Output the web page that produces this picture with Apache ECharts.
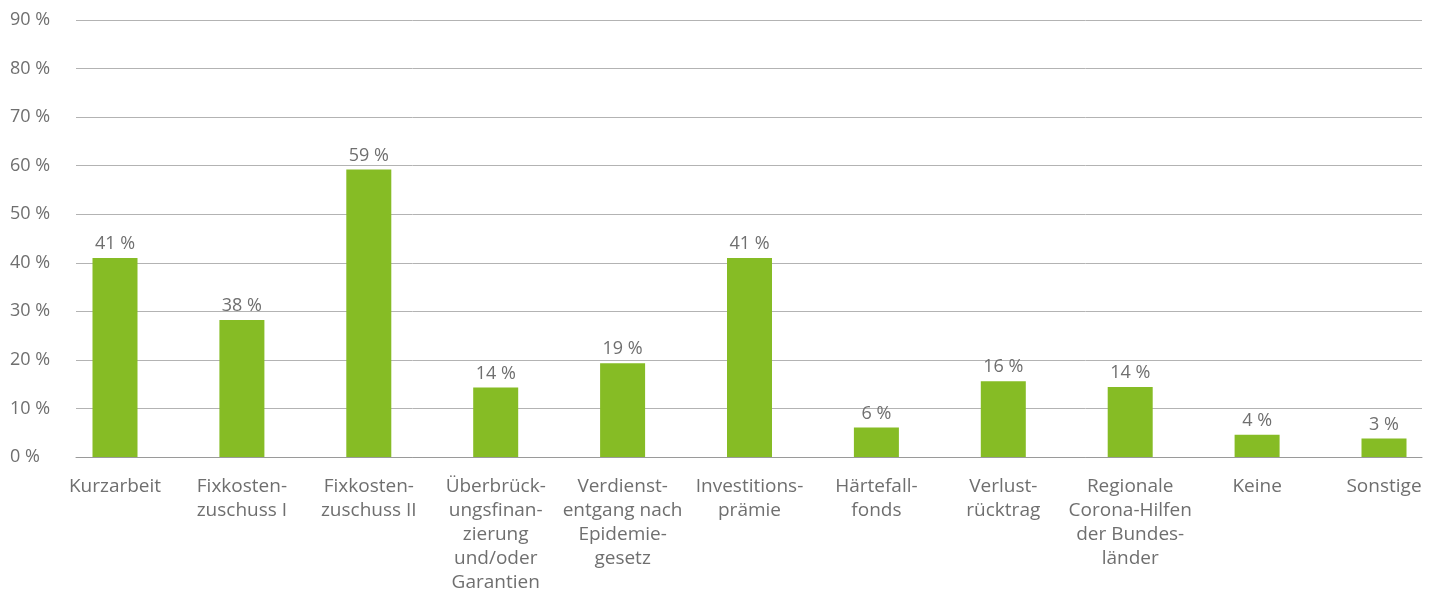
<!DOCTYPE html>
<html>
<head>
<meta charset="utf-8">
<script src="https://cdn.jsdelivr.net/npm/echarts@6/dist/echarts.min.js"></script>
<style>
html,body{margin:0;padding:0;background:#fff;}
#c{width:1438px;height:592px;}
</style>
</head>
<body>
<div id="c"></div>
<script>
const categories = ['Kurzarbeit', 'Fixkosten-\nzuschuss I', 'Fixkosten-\nzuschuss II', 'Überbrück-\nungsfinan-\nzierung\nund/oder\nGarantien', 'Verdienst-\nentgang nach\nEpidemie-\ngesetz', 'Investitions-\nprämie', 'Härtefall-\nfonds', 'Verlust-\nrücktrag', 'Regionale\nCorona-Hilfen\nder Bundes-\nländer', 'Keine', 'Sonstige'];
const values = [41, 28.2, 59.2, 14.3, 19.3, 41, 6.1, 15.6, 14.4, 4.6, 3.8];
const valueLabels = ['41 %', '38 %', '59 %', '14 %', '19 %', '41 %', '6 %', '16 %', '14 %', '4 %', '3 %'];
const yMin = 0, yMax = 90, yStep = 10;

const FONT = '"Open Sans", "Noto Sans", sans-serif';
const TEXT = '#6f6f6f';
const chart = echarts.init(document.getElementById('c'), null, {renderer: 'canvas'});
chart.setOption({
  animation: false,
  backgroundColor: '#ffffff',
  grid: [
    {left: 76, right: 16, top: 20, bottom: 135, containLabel: false, outerBoundsMode: 'none'},
    {left: 115, right: 54, top: 20, bottom: 135, containLabel: false, outerBoundsMode: 'none'}
  ],
  xAxis: [
    {gridIndex: 0, type: 'category', data: categories,
     axisLine: {show: true, lineStyle: {color: '#9a9a9a', width: 1}},
     axisTick: {show: false}, axisLabel: {show: false}, splitLine: {show: false}},
    {gridIndex: 1, type: 'category', data: categories, boundaryGap: false,
     axisLine: {show: false}, axisTick: {show: false}, splitLine: {show: false},
     axisLabel: {interval: 0, color: TEXT, fontFamily: FONT, fontSize: 19, lineHeight: 24, margin: 18, align: 'center'}}
  ],
  yAxis: [
    {gridIndex: 0, type: 'value', min: yMin, max: yMax, interval: yStep,
     axisLine: {show: false}, axisTick: {show: false},
     splitLine: {show: true, lineStyle: {color: '#b3b3b3', width: 1}},
     axisLabel: {color: TEXT, fontFamily: FONT, fontSize: 18, align: 'left', margin: 66,
                 padding: [5, 0, 0, 0], formatter: v => v + ' %'}},
    {gridIndex: 1, type: 'value', min: yMin, max: yMax, interval: yStep, show: false}
  ],
  series: [{
    type: 'bar', xAxisIndex: 1, yAxisIndex: 1,
    data: values, barWidth: 45,
    itemStyle: {color: '#86bc25'},
    label: {show: true, position: 'top', distance: 5, color: TEXT, fontFamily: FONT, fontSize: 18,
            formatter: p => valueLabels[p.dataIndex]}
  }]
});
</script>
</body>
</html>
